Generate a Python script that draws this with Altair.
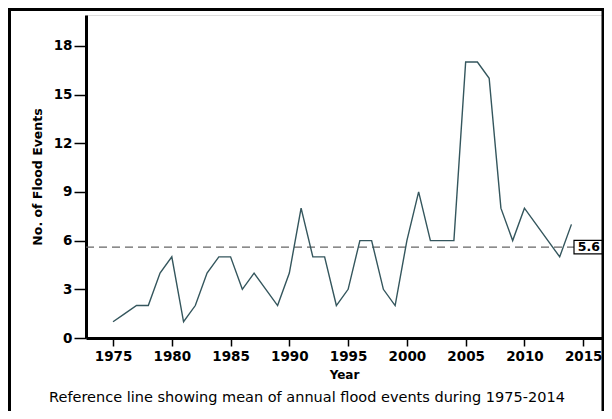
import altair as alt
import pandas as pd

years = list(range(1975, 2015))
events = [1, 1.5, 2, 2, 4, 5, 1, 2, 4, 5,
          5, 3, 4, 3, 2, 4, 8, 5, 5, 2,
          3, 6, 6, 3, 2, 6, 9, 6, 6, 6,
          17, 17, 16, 8, 6, 8, 7, 6, 5, 7]
mean_value = 5.6
mean_label = "5.6"
x_ticks = [1975, 1980, 1985, 1990, 1995, 2000, 2005, 2010, 2015]
y_ticks = [0, 3, 6, 9, 12, 15, 18]
caption = "Reference line showing mean of annual flood events during 1975-2014"

W, H = 516, 323

df = pd.DataFrame({"Year": years, "Events": events})
mdf = pd.DataFrame({"m": [mean_value], "lab": [mean_label],
                    "lo": [mean_value - 0.42], "hi": [mean_value + 0.42]})
cdf = pd.DataFrame({"t": [caption]})

xs = alt.Scale(domain=[1972.7, 2016.6], nice=False, zero=False)
ys = alt.Scale(domain=[0, 19.9], nice=False)

line = alt.Chart(df).mark_line(color="#34565d", strokeWidth=1.4).encode(
    x=alt.X("Year:Q", scale=xs,
            axis=alt.Axis(values=x_ticks, format="d", title="Year",
                          grid=False, tickSize=8, tickWidth=1.5, tickColor="black",
                          domainWidth=3, domainColor="black",
                          labelFont="DejaVu Sans", labelFontWeight="bold",
                          labelFontSize=13.5, labelColor="black", labelPadding=3,
                          titleFont="DejaVu Sans", titleFontWeight="bold",
                          titleFontSize=12, titleColor="black", titlePadding=7)),
    y=alt.Y("Events:Q", scale=ys,
            axis=alt.Axis(values=y_ticks, title="No. of Flood Events",
                          grid=False, tickSize=12, tickWidth=1.5, tickColor="black",
                          domainWidth=3, domainColor="black",
                          labelFont="DejaVu Sans", labelFontWeight="bold",
                          labelFontSize=13.5, labelColor="black", labelPadding=2,
                          titleFont="DejaVu Sans", titleFontWeight="bold",
                          titleFontSize=12.5, titleColor="black", titlePadding=9)),
)

rule = alt.Chart(mdf).mark_rule(color="#666666", strokeDash=[8, 5], strokeWidth=1.2).encode(
    y=alt.Y("m:Q", scale=ys),
    x=alt.value(0),
    x2=alt.value(488),
)

box = alt.Chart(mdf).mark_rect(fill="white", stroke="black", strokeWidth=1.2).encode(
    y=alt.Y("lo:Q", scale=ys),
    y2="hi:Q",
    x=alt.value(488),
    x2=alt.value(W),
)

lab = alt.Chart(mdf).mark_text(font="DejaVu Sans", fontWeight="bold", fontSize=12.5,
                               align="right", baseline="middle", color="black").encode(
    y=alt.Y("m:Q", scale=ys),
    x=alt.value(W - 2),
    text="lab:N",
)

cap = alt.Chart(cdf).mark_text(font="DejaVu Sans", fontSize=14.5, align="center",
                               baseline="middle", color="black").encode(
    x=alt.value(221),
    y=alt.value(383),
    text="t:N",
)

frame = alt.Chart(cdf).mark_rect(filled=False, stroke="black", strokeWidth=3).encode(
    x=alt.value(-76.5),
    x2=alt.value(W + 1),
    y=alt.value(-5.5),
    y2=alt.value(H + 120),
)

chart = alt.layer(frame, rule, box, lab, line, cap).properties(
    width=W, height=H,
    autosize=alt.AutoSizeParams(type="none"),
    padding={"left": 78, "top": 7, "right": 2, "bottom": 73},
).configure_view(stroke="black", strokeWidth=2).configure(background="white")

chart.save("out.html", embed_options={"renderer": "svg", "actions": False})
